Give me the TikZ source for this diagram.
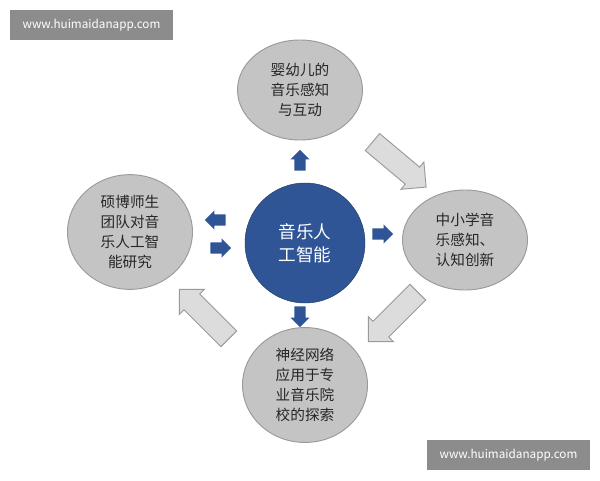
\documentclass[tikz,border=0pt]{standalone}
\usepackage{fontspec}
\setmainfont{Noto Sans CJK SC}
\usetikzlibrary{shapes.arrows,shapes.geometric}
\definecolor{ringblue}{HTML}{2F5597}
\definecolor{bubblegray}{HTML}{C4C4C4}
\definecolor{edgegray}{HTML}{9A9A9A}
\tikzset{
  bubble/.style={ellipse, draw=edgegray, line width=0.8pt, fill=bubblegray, minimum width=3.75cm, minimum height=3cm, align=center, font=\fontsize{12.5}{17}\selectfont, text=black!85},
  hub/.style={circle, draw=ringblue!70!black, fill=ringblue, minimum size=3.6cm, align=center, text=white, font=\fontsize{15}{20}\selectfont},
  tip/.style={single arrow, fill=ringblue, draw=none, minimum height=0.62cm, inner xsep=0pt, inner ysep=0.16cm, single arrow head extend=0.12cm, single arrow tip angle=90},
  flow/.style={single arrow, fill=bubblegray!60, draw=edgegray, line width=0.8pt, minimum height=2.1cm, inner xsep=0pt, inner ysep=0.32cm, single arrow head extend=0.2cm, single arrow tip angle=90},
  watermark/.style={fill=black!45, text=white, font=\fontsize{10}{12}\selectfont, minimum width=4.9cm, minimum height=0.9cm, inner sep=0pt}
}
\begin{document}
\begin{tikzpicture}[x=0.03cm, y=-0.03cm]
\useasboundingbox[fill=white] (0,0) rectangle (600,480);
\node[watermark] (wm1) at (91.5,25) {www.huimaidanapp.com};
\node[watermark] (wm2) at (508.5,455) {www.huimaidanapp.com};

\node[hub] (core) at (305,243) {音乐人\\工智能};
\node[bubble] (top) at (300,90) {婴幼儿的\\音乐感知\\与互动};
\node[bubble] (right) at (465,240) {中小学音\\乐感知、\\认知创新};
\node[bubble] (left) at (130,232) {硕博师生\\团队对音\\乐人工智\\能研究};
\node[bubble] (bottom) at (305,385) {神经网络\\应用于专\\业音乐院\\校的探索};

\node[tip, rotate=90] (up) at (300,163) {};
\node[tip] (east) at (380,234) {};
\node[tip, rotate=-90] (down) at (300,314) {};
\node[tip, rotate=180] (west) at (218,220) {};
\node[tip] (back) at (218,248) {};

\node[flow, rotate=-40] (f1) at (395,161) {};
\node[flow, rotate=-135] (f2) at (397,313) {};
\node[flow, rotate=135] (f3) at (208,318) {};
\end{tikzpicture}
\end{document}
